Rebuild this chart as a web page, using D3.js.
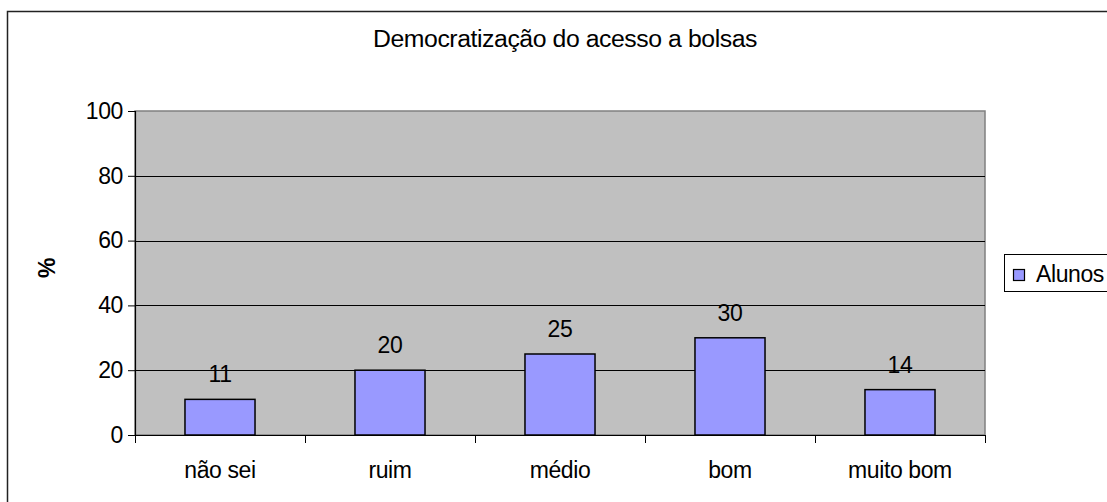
<!DOCTYPE html>
<html>
<head>
<meta charset="utf-8">
<script src="https://cdn.jsdelivr.net/npm/d3@7"></script>
<style>
  body { margin: 0; background: #fff; }
  text { font-family: "Liberation Sans", Arial, sans-serif; fill: #000; letter-spacing: -0.4px; }
</style>
</head>
<body>
<div id="chart"></div>
<script>
// data
var categories = ["não sei", "ruim", "médio", "bom", "muito bom"];
var alunos = [11, 20, 25, 30, 14];
var yTicks = [0, 20, 40, 60, 80, 100];

var w = 1107;
var h = 502;
var fs = "23px";
var plot = { left: 135, top: 111, right: 985, bottom: 435 };

var svg = d3.select("#chart")
  .append("svg")
  .attr("width", w)
  .attr("height", h);

// outer chart border
svg.append("rect")
  .attr("x", 7.5)
  .attr("y", 11.5)
  .attr("width", w + 10)
  .attr("height", h + 10)
  .attr("fill", "white")
  .attr("stroke", "#222")
  .attr("stroke-width", 1.5);

// title
svg.append("text")
  .attr("x", 373)
  .attr("y", 47)
  .attr("font-size", fs)
  .attr("textLength", 384)
  .attr("lengthAdjust", "spacingAndGlyphs")
  .text("Democratização do acesso a bolsas");

var xScale = d3.scaleBand()
  .domain(categories)
  .range([plot.left, plot.right])
  .paddingInner(0.588)
  .paddingOuter(0.294);

var yScale = d3.scaleLinear()
  .domain([0, 100])
  .range([plot.bottom, plot.top]);

// plot background
svg.append("rect")
  .attr("x", plot.left)
  .attr("y", plot.top)
  .attr("width", plot.right - plot.left)
  .attr("height", plot.bottom - plot.top)
  .attr("fill", "#C0C0C0")
  .attr("stroke", "#808080")
  .attr("stroke-width", 1.5);

// gridlines
svg.selectAll(".grid")
  .data(yTicks.filter((d) => d > 0 && d < 100))
  .enter()
  .append("line")
  .attr("class", "grid")
  .attr("x1", plot.left)
  .attr("x2", plot.right)
  .attr("y1", (d) => Math.round(yScale(d)) + 0.5)
  .attr("y2", (d) => Math.round(yScale(d)) + 0.5)
  .attr("stroke", "#000")
  .attr("stroke-width", 1);

// bars
svg.selectAll(".bar")
  .data(alunos)
  .enter()
  .append("rect")
  .attr("class", "bar")
  .attr("x", (d, i) => xScale(categories[i]))
  .attr("y", (d) => yScale(d))
  .attr("width", xScale.bandwidth())
  .attr("height", (d) => yScale(0) - yScale(d))
  .attr("fill", "#9999FF")
  .attr("stroke", "#000")
  .attr("stroke-width", 1.5);

// value labels
svg.selectAll(".val")
  .data(alunos)
  .enter()
  .append("text")
  .attr("class", "val")
  .attr("x", (d, i) => xScale(categories[i]) + xScale.bandwidth() / 2)
  .attr("y", (d) => yScale(d) - 17)
  .attr("text-anchor", "middle")
  .attr("font-size", fs)
  .text((d) => d);

// y-axis
var yAxis = d3.axisLeft(yScale)
  .tickValues(yTicks)
  .tickSize(7)
  .tickPadding(5);

var gy = svg.append("g")
  .attr("transform", "translate(" + plot.left + ",0)")
  .call(yAxis);
gy.select(".domain").attr("stroke", "#000").attr("stroke-width", 1.2);
gy.selectAll("line").attr("stroke", "#000");
gy.selectAll("text")
  .attr("font-size", fs)
  .attr("font-family", "Liberation Sans, Arial, sans-serif");

// x-axis: category ticks at boundaries
var step = xScale.step();
var bounds = d3.range(categories.length + 1).map((i) => plot.left + i * step);

svg.append("line")
  .attr("x1", plot.left)
  .attr("x2", plot.right)
  .attr("y1", plot.bottom + 0.5)
  .attr("y2", plot.bottom + 0.5)
  .attr("stroke", "#000")
  .attr("stroke-width", 1.2);

svg.selectAll(".xtick")
  .data(bounds)
  .enter()
  .append("line")
  .attr("class", "xtick")
  .attr("x1", (d) => Math.round(d) + 0.5)
  .attr("x2", (d) => Math.round(d) + 0.5)
  .attr("y1", plot.bottom)
  .attr("y2", plot.bottom + 8)
  .attr("stroke", "#000");

svg.selectAll(".xlabel")
  .data(categories)
  .enter()
  .append("text")
  .attr("class", "xlabel")
  .attr("x", (d) => xScale(d) + xScale.bandwidth() / 2)
  .attr("y", 478)
  .attr("text-anchor", "middle")
  .attr("font-size", fs)
  .text((d) => d);

// y label
svg.append("text")
  .attr("transform", "translate(55,268) rotate(-90)")
  .attr("text-anchor", "middle")
  .attr("font-size", fs)
  .attr("font-weight", "bold")
  .text("%");

// legend
var legend = svg.append("g");
legend.append("rect")
  .attr("x", 1004.5)
  .attr("y", 254.5)
  .attr("width", 120)
  .attr("height", 37)
  .attr("fill", "white")
  .attr("stroke", "#000")
  .attr("stroke-width", 1);
legend.append("rect")
  .attr("x", 1013.5)
  .attr("y", 269.5)
  .attr("width", 11)
  .attr("height", 11)
  .attr("fill", "#9999FF")
  .attr("stroke", "#000")
  .attr("stroke-width", 1.2);
legend.append("text")
  .attr("x", 1036)
  .attr("y", 282)
  .attr("font-size", fs)
  .text("Alunos");
</script>
</body>
</html>
